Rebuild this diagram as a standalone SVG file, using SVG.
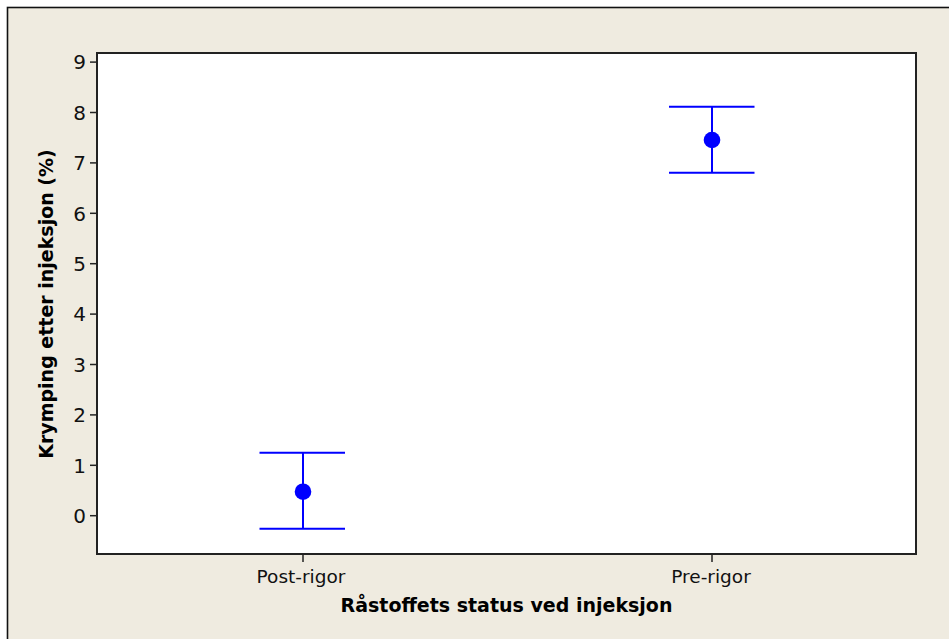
<svg xmlns="http://www.w3.org/2000/svg" width="949" height="639" viewBox="0 0 949 639">
<style>
.bg{fill:#EFEBE0;stroke:#111;stroke-width:1.6}
.plot{fill:#FFFFFF;stroke:#222;stroke-width:2}
.tick{stroke:#222;stroke-width:1.5}
.tl{font-family:"DejaVu Sans",Verdana,sans-serif;font-size:18.5px;fill:#111}
.num{font-family:"DejaVu Sans",Verdana,sans-serif;font-size:20px;fill:#111}
.title{font-family:"DejaVu Sans",Verdana,sans-serif;font-size:19px;font-weight:bold;fill:#000}
.eb{stroke:#0000FF;stroke-width:2;fill:none}
.dot{fill:#0000FF}
</style>
<rect x="0" y="0" width="949" height="639" fill="#FFFFFF"/>
<rect class="bg" x="7.5" y="7.5" width="960" height="660"/>
<rect class="plot" x="97" y="53" width="819" height="501"/>
<g id="y-axis">
<line class="tick" x1="90" y1="515.7" x2="97" y2="515.7"/>
<line class="tick" x1="90" y1="465.3" x2="97" y2="465.3"/>
<line class="tick" x1="90" y1="414.9" x2="97" y2="414.9"/>
<line class="tick" x1="90" y1="364.5" x2="97" y2="364.5"/>
<line class="tick" x1="90" y1="314.1" x2="97" y2="314.1"/>
<line class="tick" x1="90" y1="263.7" x2="97" y2="263.7"/>
<line class="tick" x1="90" y1="213.3" x2="97" y2="213.3"/>
<line class="tick" x1="90" y1="162.9" x2="97" y2="162.9"/>
<line class="tick" x1="90" y1="112.5" x2="97" y2="112.5"/>
<line class="tick" x1="90" y1="62.1" x2="97" y2="62.1"/>
<g class="num" text-anchor="end">
<text x="86" y="523">0</text>
<text x="86" y="472.6">1</text>
<text x="86" y="422.2">2</text>
<text x="86" y="371.8">3</text>
<text x="86" y="321.4">4</text>
<text x="86" y="271">5</text>
<text x="86" y="220.6">6</text>
<text x="86" y="170.2">7</text>
<text x="86" y="119.8">8</text>
<text x="86" y="69.4">9</text>
</g>
<text class="title" text-anchor="middle" transform="translate(52.5,304) rotate(-90)">Krymping etter injeksjon (%)</text>
</g>
<g id="x-axis">
<line class="tick" x1="303" y1="554" x2="303" y2="562"/>
<line class="tick" x1="712" y1="554" x2="712" y2="562"/>
<text class="tl" x="301" y="583" text-anchor="middle">Post-rigor</text>
<text class="tl" x="711" y="583" text-anchor="middle">Pre-rigor</text>
<text class="title" x="506.5" y="612" text-anchor="middle">Råstoffets status ved injeksjon</text>
</g>
<g id="connectors">
<line class="eb" x1="303" y1="452.7" x2="303" y2="528.7"/>
<line class="eb" x1="259.5" y1="452.7" x2="345" y2="452.7"/>
<line class="eb" x1="259.5" y1="528.7" x2="345" y2="528.7"/>
<line class="eb" x1="712" y1="106.7" x2="712" y2="172.7"/>
<line class="eb" x1="669" y1="106.7" x2="754.5" y2="106.7"/>
<line class="eb" x1="669" y1="172.7" x2="754.5" y2="172.7"/>
</g>
<g id="post-rigor"><circle class="dot" cx="303" cy="491.7" r="8.3"/></g>
<g id="pre-rigor"><circle class="dot" cx="712" cy="140" r="8.3"/></g>
</svg>
